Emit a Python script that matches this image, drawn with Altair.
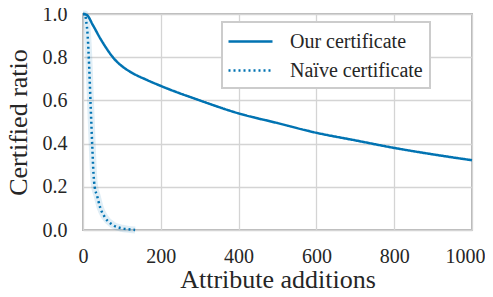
import altair as alt
import pandas as pd

ours_x = [0, 10, 25, 45, 60, 78, 95, 120, 165, 200, 300, 400, 500, 600, 700, 800, 900, 1000]
ours_y = [1.0, 0.995, 0.95, 0.885, 0.842, 0.797, 0.766, 0.734, 0.694, 0.667, 0.60, 0.54, 0.495, 0.45, 0.415, 0.38, 0.35, 0.323]

naive_x = [0, 5, 8, 12, 16, 20, 24, 27, 30, 36, 44, 56, 77, 100, 113, 134]
naive_y = [1.0, 1.0, 0.97, 0.9, 0.75, 0.56, 0.38, 0.26, 0.2, 0.16, 0.105, 0.06, 0.023, 0.008, 0.004, 0.0]

x_ticks = [0, 200, 400, 600, 800, 1000]
y_ticks = [0, 0.2, 0.4, 0.6, 0.8, 1.0]

series = ["Our certificate", "Naïve certificate"]

df = pd.concat([
    pd.DataFrame({"x": ours_x, "y": ours_y, "s": series[0], "o": 0}),
    pd.DataFrame({"x": naive_x, "y": naive_y, "s": series[1], "o": 1}),
])

blue = "#0173B2"
font = "Liberation Serif"
txt = "#262626"

base = alt.Chart(df)

axis_style = dict(labelFont=font, labelFontSize=20, labelColor=txt, labelPadding=16,
                  labelFlush=False,
                  titleFont=font, titleFontSize=26, titleColor=txt, titleFontWeight="normal",
                  grid=True, gridColor="#d4d4d4", gridWidth=1.3, domain=False, ticks=False)

xenc = alt.X("x:Q", scale=alt.Scale(domain=[0, 1000], nice=False),
             axis=alt.Axis(values=x_ticks, format="d", title="Attribute additions",
                           titlePadding=0,
                           labelAlign={"condition": {"test": "datum.value == 1000", "value": "right"},
                                       "value": "center"},
                           labelOffset={"condition": {"test": "datum.value == 1000", "value": 13},
                                        "value": 0},
                           **axis_style))
yenc = alt.Y("y:Q", scale=alt.Scale(domain=[0, 1], nice=False),
             axis=alt.Axis(values=y_ticks, format=".1f", title="Certified ratio",
                           titlePadding=11, **axis_style))

halo = base.transform_filter(alt.datum.s == series[1]).mark_line(
    color=blue, strokeWidth=7, opacity=0.12, interpolate="monotone"
).encode(x=xenc, y=yenc)

lines = base.mark_line(strokeWidth=2.5, interpolate="monotone").encode(
    x=xenc, y=yenc,
    color=alt.Color("s:N", scale=alt.Scale(domain=series, range=[blue, blue]),
                    sort=series,
                    legend=alt.Legend(title=None, orient="none", legendX=139, legendY=8,
                                      symbolType="M-2,0H2", symbolStrokeWidth=2.5, symbolSize=484,
                                      labelFont=font, labelFontSize=20, labelColor=txt,
                                      labelExpr="datum.label + '\u00a0\u00a0\u00a0\u00a0'",
                                      padding=7, strokeColor="#cccccc", fillColor="white",
                                      rowPadding=6, labelOffset=27, symbolOffset=9)),
    strokeDash=alt.StrokeDash("s:N", scale=alt.Scale(domain=series, range=[[1, 0], [2, 3]]),
                              sort=series, legend=None),
    order="o:Q",
)

chart = alt.layer(halo, lines).properties(
    width=389, height=216,
    autosize=alt.AutoSizeParams(type="none"),
    padding={"left": 75, "top": 6, "right": 13, "bottom": 59},
    background="white",
).configure(font=font).configure_view(stroke="#b8b8b8", strokeWidth=2).configure_legend(
    strokeWidth=2
)

chart.save("out.html", embed_options={"renderer": "svg", "actions": False})
